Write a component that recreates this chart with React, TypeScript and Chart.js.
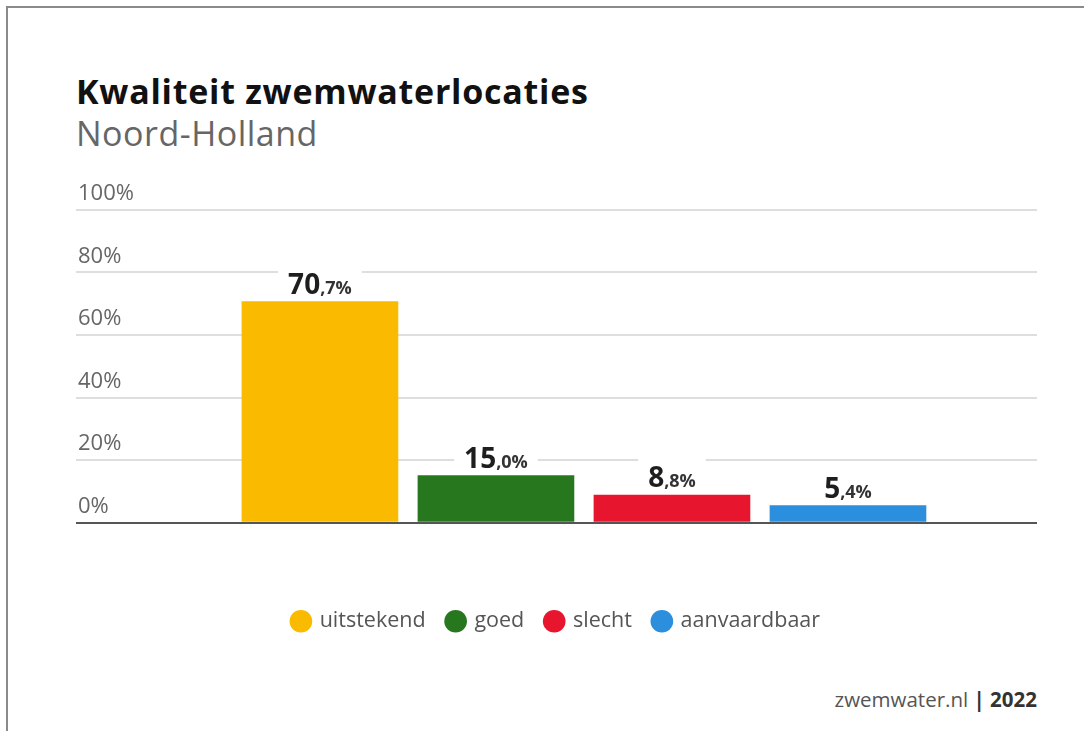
import React, { useEffect, useRef } from "react";
import { Chart, registerables } from "chart.js";

Chart.register(...registerables);

const title = "Kwaliteit zwemwaterlocaties";
const subtitle = "Noord-Holland";
const categories = ["uitstekend", "goed", "slecht", "aanvaardbaar"];
const values = [70.7, 15.0, 8.8, 5.4];
const colors = ["#F9BA00", "#27771F", "#E8152E", "#2B8FDE"];
const yTicks = [0, 20, 40, 60, 80, 100];
const sourceText = "zwemwater.nl";
const yearText = "2022";

const FONT = "'Open Sans', 'Noto Sans', sans-serif";

const valueLabelPlugin = {
  id: "valueLabels",
  afterDatasetsDraw(chart: any) {
    const ctx = chart.ctx as CanvasRenderingContext2D;
    ctx.save();
    chart.data.datasets.forEach((ds: any, i: number) => {
      const meta = chart.getDatasetMeta(i);
      const el = meta.data[0];
      if (!el) return;
      const v = values[i].toFixed(1).split(".");
      const big = v[0];
      const small = "," + v[1] + "%";
      const bigFont = `bold 28px ${FONT}`;
      const smallFont = `bold 18px ${FONT}`;
      ctx.font = bigFont;
      const wb = ctx.measureText(big).width;
      ctx.font = smallFont;
      const ws = ctx.measureText(small).width;
      const total = wb + ws;
      const x0 = el.x - total / 2;
      const baseline = el.y - 8;
      ctx.fillStyle = "#ffffff";
      ctx.fillRect(x0 - 10, baseline - 28, total + 20, 32);
      ctx.fillStyle = "#1e1e1e";
      ctx.textBaseline = "alphabetic";
      ctx.textAlign = "left";
      ctx.font = bigFont;
      ctx.fillText(big, x0, baseline);
      ctx.font = smallFont;
      ctx.fillStyle = "#333";
      ctx.fillText(small, x0 + wb, baseline);
    });
    ctx.restore();
  },
};

export default function App() {
  const canvasRef = useRef<HTMLCanvasElement | null>(null);

  useEffect(() => {
    if (!canvasRef.current) return;
    const chart = new Chart(canvasRef.current, {
      type: "bar",
      data: {
        datasets: categories.map((c, i) => ({
          label: c,
          data: [{ x: i + 1, y: values[i] }],
          backgroundColor: colors[i],
          borderWidth: 0,
          barThickness: 156,
          grouped: false,
        })),
      },
      options: {
        animation: false,
        responsive: true,
        maintainAspectRatio: false,
        layout: { padding: { left: 76, right: 47, top: 30, bottom: 0 } },
        scales: {
          x: {
            type: "linear",
            min: -0.386,
            max: 5.074,
            offset: false,
            ticks: { display: false },
            grid: { display: false },
            border: { display: false },
            afterFit: (s: any) => {
              s.height = 66;
            },
          },
          y: {
            min: 0,
            max: 100,
            afterBuildTicks: (s: any) => {
              s.ticks = yTicks.map((v) => ({ value: v }));
            },
            afterFit: (s: any) => {
              s.width = 0;
            },
            ticks: {
              mirror: true,
              padding: 2,
              labelOffset: -16,
              color: "#666",
              font: { family: FONT, size: 22 },
              callback: (v: any) => v + "%",
            },
            grid: {
              drawTicks: false,
              lineWidth: 2,
              color: (c: any) => (c.tick && c.tick.value === 0 ? "#555" : "#dedede"),
            },
            border: { display: false },
          },
        },
        plugins: {
          tooltip: { enabled: false },
          legend: {
            position: "bottom",
            labels: {
              usePointStyle: true,
              pointStyle: "circle",
              boxWidth: 16,
              boxHeight: 16,
              padding: 22,
              color: "#555",
              font: { family: FONT, size: 21.5 },
            },
          },
        },
      },
      plugins: [valueLabelPlugin],
    } as any);
    return () => chart.destroy();
  }, []);

  return (
    <div style={{ position: "fixed", left: 0, top: 0, width: 1084, height: 731, overflow: "hidden", background: "#fff", fontFamily: FONT }}>
      <div style={{ position: "absolute", left: 6, top: 6, right: -10, bottom: -10, borderLeft: "2px solid #8a8a8a", borderTop: "2px solid #8a8a8a" }} />
      <div style={{ position: "absolute", left: 76, top: 74, fontSize: 34, letterSpacing: 0.75, lineHeight: 1, fontWeight: 700, color: "#111", whiteSpace: "nowrap" }}>{title}</div>
      <div style={{ position: "absolute", left: 76, top: 116, fontSize: 34, letterSpacing: 0.5, lineHeight: 1, fontWeight: 400, color: "#666", whiteSpace: "nowrap" }}>{subtitle}</div>
      <div style={{ position: "absolute", left: 0, top: 180, width: 1084, height: 462 }}>
        <canvas ref={canvasRef} />
      </div>
      <div style={{ position: "absolute", right: 47, top: 689, fontSize: 20.5, lineHeight: 1, whiteSpace: "nowrap" }}>
        <span style={{ color: "#555" }}>{sourceText}</span>
        <span style={{ color: "#333", fontWeight: 700 }}> | {yearText}</span>
      </div>
    </div>
  );
}
